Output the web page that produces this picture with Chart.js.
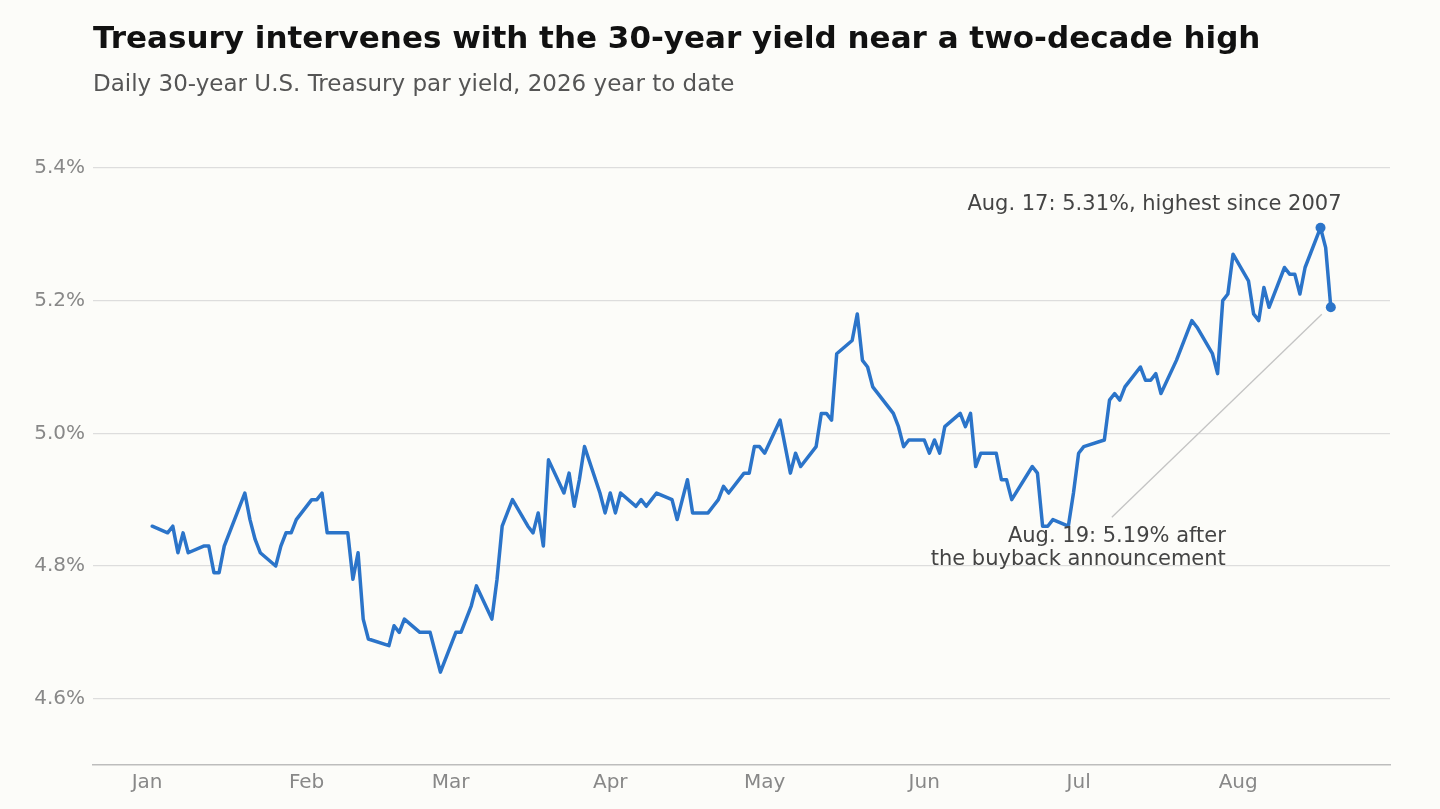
<!DOCTYPE html>
<html>
<head>
<meta charset="utf-8">
<script src="https://cdn.jsdelivr.net/npm/chart.js@4.4.1/dist/chart.umd.min.js"></script>
<style>
html,body{margin:0;padding:0;background:#fcfcf9;}
#wrap{width:1440px;height:809px;position:relative;}
canvas{display:block;}
</style>
</head>
<body>
<div id="wrap"><canvas id="c" width="1440" height="809" style="width:1440px;height:809px"></canvas></div>
<script>
// ---- data ----
const titleText = 'Treasury intervenes with the 30-year yield near a two-decade high';
const subtitleText = 'Daily 30-year U.S. Treasury par yield, 2026 year to date';

const dates = [
 '2026-01-02','2026-01-05','2026-01-06','2026-01-07','2026-01-08','2026-01-09','2026-01-12','2026-01-13','2026-01-14','2026-01-15','2026-01-16','2026-01-20','2026-01-21','2026-01-22','2026-01-23','2026-01-26','2026-01-27','2026-01-28','2026-01-29','2026-01-30',
 '2026-02-02','2026-02-03','2026-02-04','2026-02-05','2026-02-06','2026-02-09','2026-02-10','2026-02-11','2026-02-12','2026-02-13','2026-02-17','2026-02-18','2026-02-19','2026-02-20','2026-02-23','2026-02-24','2026-02-25','2026-02-26','2026-02-27',
 '2026-03-02','2026-03-03','2026-03-04','2026-03-05','2026-03-06','2026-03-09','2026-03-10','2026-03-11','2026-03-12','2026-03-13','2026-03-16','2026-03-17','2026-03-18','2026-03-19','2026-03-20','2026-03-23','2026-03-24','2026-03-25','2026-03-26','2026-03-27','2026-03-30','2026-03-31',
 '2026-04-01','2026-04-02','2026-04-03','2026-04-06','2026-04-07','2026-04-08','2026-04-09','2026-04-10','2026-04-13','2026-04-14','2026-04-15','2026-04-16','2026-04-17','2026-04-20','2026-04-21','2026-04-22','2026-04-23','2026-04-24','2026-04-27','2026-04-28','2026-04-29','2026-04-30',
 '2026-05-01','2026-05-04','2026-05-05','2026-05-06','2026-05-07','2026-05-08','2026-05-11','2026-05-12','2026-05-13','2026-05-14','2026-05-15','2026-05-18','2026-05-19','2026-05-20','2026-05-21','2026-05-22','2026-05-26','2026-05-27','2026-05-28','2026-05-29',
 '2026-06-01','2026-06-02','2026-06-03','2026-06-04','2026-06-05','2026-06-08','2026-06-09','2026-06-10','2026-06-11','2026-06-12','2026-06-15','2026-06-16','2026-06-17','2026-06-18','2026-06-22','2026-06-23','2026-06-24','2026-06-25','2026-06-26','2026-06-29','2026-06-30',
 '2026-07-01','2026-07-02','2026-07-06','2026-07-07','2026-07-08','2026-07-09','2026-07-10','2026-07-13','2026-07-14','2026-07-15','2026-07-16','2026-07-17','2026-07-20','2026-07-21','2026-07-22','2026-07-23','2026-07-24','2026-07-27','2026-07-28','2026-07-29','2026-07-30','2026-07-31',
 '2026-08-03','2026-08-04','2026-08-05','2026-08-06','2026-08-07','2026-08-10','2026-08-11','2026-08-12','2026-08-13','2026-08-14','2026-08-17','2026-08-18','2026-08-19'
];
const yields = [
 4.86,4.85,4.86,4.82,4.85,4.82,4.83,4.83,4.79,4.79,4.83,4.91,4.87,4.84,4.82,4.80,4.83,4.85,4.85,4.87,
 4.90,4.90,4.91,4.85,4.85,4.85,4.78,4.82,4.72,4.69,4.68,4.71,4.70,4.72,4.70,4.70,4.70,4.67,4.64,
 4.70,4.70,4.72,4.74,4.77,4.72,4.78,4.86,4.88,4.90,4.86,4.85,4.88,4.83,4.96,4.91,4.94,4.89,4.93,4.98,4.91,4.88,
 4.91,4.88,4.91,4.89,4.90,4.89,4.90,4.91,4.90,4.87,4.90,4.93,4.88,4.88,4.89,4.90,4.92,4.91,4.94,4.94,4.98,4.98,
 4.97,5.02,4.98,4.94,4.97,4.95,4.98,5.03,5.03,5.02,5.12,5.14,5.18,5.11,5.10,5.07,5.03,5.01,4.98,4.99,
 4.99,4.97,4.99,4.97,5.01,5.03,5.01,5.03,4.95,4.97,4.97,4.93,4.93,4.90,4.95,4.94,4.86,4.86,4.87,4.86,4.91,
 4.97,4.98,4.99,5.05,5.06,5.05,5.07,5.10,5.08,5.08,5.09,5.06,5.11,5.13,5.15,5.17,5.16,5.12,5.09,5.20,5.21,5.27,
 5.23,5.18,5.17,5.22,5.19,5.25,5.24,5.24,5.21,5.25,5.31,5.28,5.19
];
const monthLabels = ['Jan','Feb','Mar','Apr','May','Jun','Jul','Aug'];
const monthStarts = ['2026-01-01','2026-02-01','2026-03-01','2026-04-01','2026-05-01','2026-06-01','2026-07-01','2026-08-01'];
const yTicks = [4.6, 4.8, 5.0, 5.2, 5.4];
const highlightDates = ['2026-08-17','2026-08-19'];
const peakNote = 'Aug. 17: 5.31%, highest since 2007';
const buybackNote = ['Aug. 19: 5.19% after', 'the buyback announcement'];

// ---- helpers ----
const BASE = Date.UTC(2026,0,1);
function dayOf(s){ const p = s.split('-').map(Number); return (Date.UTC(p[0],p[1]-1,p[2]) - BASE)/86400000; }
const points = dates.map((d,i)=>({x: dayOf(d), y: yields[i]}));
const monthDays = monthStarts.map(dayOf);
const hiIdx = highlightDates.map(d => dates.indexOf(d));

const FONT = "'DejaVu Sans', 'Liberation Sans', sans-serif";
const BLUE = '#2b74c9';

const overlay = {
  id: 'overlay',
  beforeDraw(chart){
    const ctx = chart.ctx;
    ctx.save();
    ctx.fillStyle = '#fcfcf9';
    ctx.fillRect(0,0,chart.width,chart.height);
    ctx.restore();
  },
  afterDraw(chart){
    const ctx = chart.ctx;
    const xs = chart.scales.x, ys = chart.scales.y;
    ctx.save();
    // title & subtitle
    ctx.textAlign = 'left';
    ctx.textBaseline = 'alphabetic';
    ctx.fillStyle = '#111111';
    ctx.font = "bold 31px " + FONT;
    ctx.fillText(titleText, 93, 48);
    ctx.fillStyle = '#555555';
    ctx.font = "23px " + FONT;
    ctx.fillText(subtitleText, 93, 91);

    // annotations
    const p17 = points[hiIdx[0]], p19 = points[hiIdx[1]];
    const ax = xs.getPixelForValue(p17.x), ay = ys.getPixelForValue(p17.y);
    const bx = xs.getPixelForValue(p19.x), by = ys.getPixelForValue(p19.y);

    // leader line
    ctx.strokeStyle = '#c4c4c4';
    ctx.lineWidth = 1.3;
    ctx.beginPath();
    ctx.moveTo(bx - 219, by + 210);
    ctx.lineTo(bx - 9, by + 7);
    ctx.stroke();

    ctx.font = "21px " + FONT;
    ctx.fillStyle = '#444444';
    ctx.textAlign = 'right';
    ctx.textBaseline = 'middle';
    ctx.fillText(peakNote, ax + 21, ay - 23);
    ctx.fillText(buybackNote[0], bx - 105, by + 229);
    ctx.fillText(buybackNote[1], bx - 105, by + 252);
    ctx.restore();
  }
};

new Chart(document.getElementById('c'), {
  type: 'line',
  data: {
    datasets: [{
      data: points,
      borderColor: BLUE,
      backgroundColor: BLUE,
      borderWidth: 3.5,
      borderJoinStyle: 'round',
      borderCapStyle: 'round',
      tension: 0,
      fill: false,
      pointRadius: ctx => hiIdx.includes(ctx.dataIndex) ? 5 : 0,
      pointHoverRadius: 0,
      pointBorderWidth: 0,
      clip: false
    }]
  },
  options: {
    responsive: false,
    animation: false,
    devicePixelRatio: 1,
    layout: { padding: { top: 168, right: 50, left: 0, bottom: 0 } },
    plugins: { legend: { display: false }, tooltip: { enabled: false }, title: {display:false} },
    scales: {
      x: {
        type: 'linear',
        min: -10.5,
        max: 241.5,
        afterBuildTicks: axis => { axis.ticks = monthDays.map(v => ({value: v})); },
        afterFit: axis => { axis.height = 44; },
        ticks: {
          autoSkip: false,
          maxRotation: 0,
          padding: 6,
          color: '#888888',
          font: { family: FONT, size: 20 },
          callback: (v) => { const i = monthDays.indexOf(v); return i >= 0 ? monthLabels[i] : ''; }
        },
        grid: { display: false, drawTicks: false },
        border: { display: true, color: '#bdbdbd', width: 1.5 }
      },
      y: {
        min: 4.5,
        max: 5.4,
        afterBuildTicks: axis => { axis.ticks = yTicks.map(v => ({value: v})); },
        afterFit: axis => { axis.width = 93; },
        ticks: {
          padding: 8,
          color: '#888888',
          font: { family: FONT, size: 20 },
          callback: v => v.toFixed(1) + '%'
        },
        grid: { color: '#dddddd', lineWidth: 1.2, drawTicks: false },
        border: { display: false }
      }
    }
  },
  plugins: [overlay]
});
</script>
</body>
</html>
